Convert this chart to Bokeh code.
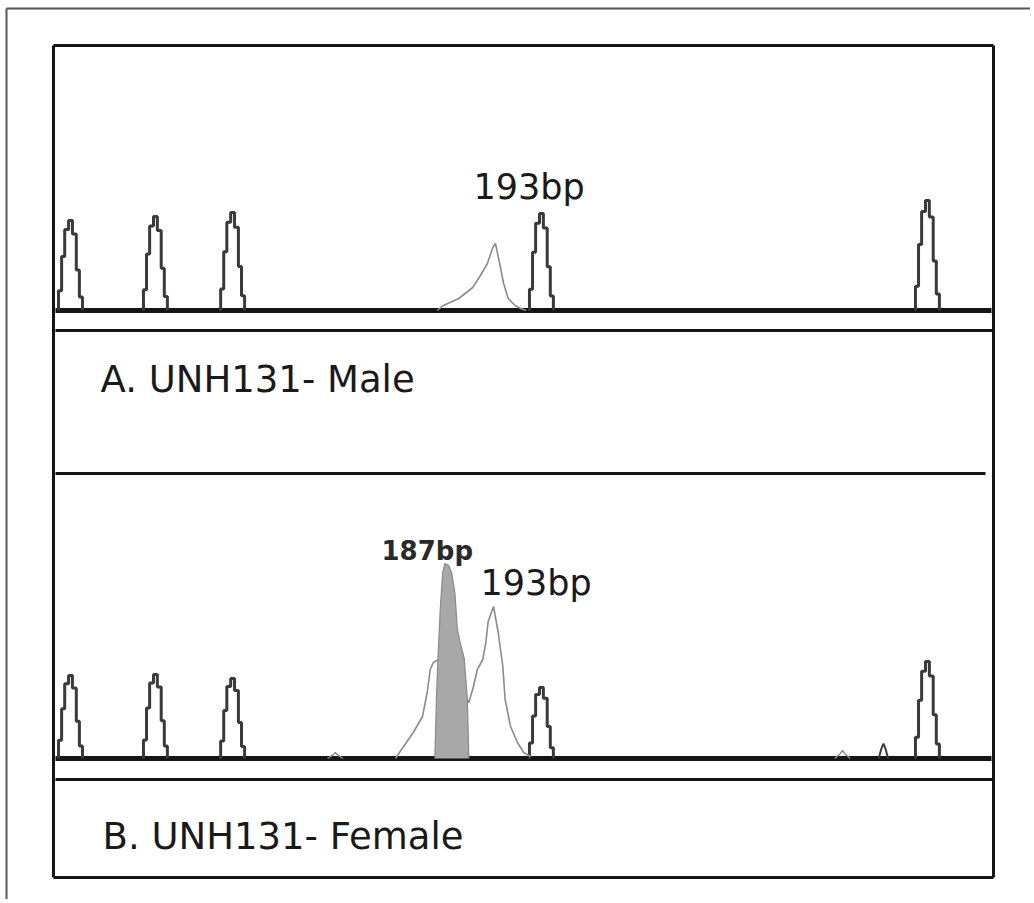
from bokeh.plotting import figure
from bokeh.models import Range1d
from bokeh.embed import file_html
from bokeh.resources import INLINE
from bokeh.core.properties import value

# ---------------- data (size in bp, signal in RFU) ----------------
ladder_bp = [139, 150, 160, 200, 250]
ladder_rfu_A = [900, 940, 980, 970, 1100]
ladder_rfu_B = [830, 840, 800, 710, 970]
# staircase profile of a ladder peak
ladder_edges_bp = [-1.55, -1.15, -0.75, -0.25, 0.25, 0.75, 1.15, 1.55]
ladder_levels = [0.22, 0.6, 0.9, 1.0, 0.85, 0.45, 0.15]

# sample A (male): single 193 bp allele
A_allele_bp = [186.5, 187.3, 189.3, 191.1, 192.1, 193.0, 193.7, 194.05, 194.7, 195.1, 195.7, 196.6, 197.3, 198.0]
A_allele_rfu = [0, 50, 120, 230, 350, 470, 630, 670, 430, 270, 120, 50, 20, 0]

# sample B (female): 187 bp + 193 bp
B_trace_bp = [181.1, 181.7, 183.4, 184.6, 185.2, 185.6, 186.0, 186.9, 188.2, 189.5, 190.6, 191.2, 191.7,
              192.4, 192.8, 193.1, 193.8, 194.4, 195.0, 195.3, 196.0, 196.9, 197.7, 198.6]
B_trace_rfu = [0, 70, 260, 420, 660, 890, 960, 1000, 900, 700, 560, 720, 890,
               990, 1160, 1370, 1520, 1260, 920, 590, 320, 160, 60, 20]
B_fill_bp = [186.2, 186.4, 186.6, 186.9, 187.2, 187.5, 188.0, 188.4, 188.8, 189.1, 189.5, 190.0, 190.4, 190.6]
B_fill_rfu = [0, 600, 1000, 1500, 1850, 1950, 1930, 1850, 1650, 1300, 1150, 1000, 600, 0]
B_small_bp = [173.3, 239.0]
B_small_rfu = [60, 80]
B_dark_bp = [244.3]
B_dark_rfu = [150]

labels_panel = ["A. UNH131- Male", "B. UNH131- Female"]
labels_peak = ["193bp", "187bp", "193bp"]

# ---------------- layout (page pixels) ----------------
W, H = 1030, 899
PX0, PY0 = 0, 0
PX_PER_BP = 7.72
PX_139 = 70.0
RFU_PER_PX = 10.0
BASE_A = 310.0
BASE_B = 758.0


def bp_at(px):
    return 139 + (px - PX_139) / PX_PER_BP


p = figure(width=W, height=H, x_range=Range1d(PX0, PX0 + W), y_range=Range1d(PY0 + H, PY0),
           output_backend="svg", toolbar_location=None, min_border=0)
p.axis.visible = False
p.grid.visible = False
p.outline_line_color = None
p.background_fill_color = "white"

p.extra_x_ranges = {"bp": Range1d(bp_at(PX0), bp_at(PX0 + W))}
p.extra_y_ranges = {
    "a": Range1d((BASE_A - (PY0 + H)) * RFU_PER_PX, (BASE_A - PY0) * RFU_PER_PX),
    "b": Range1d((BASE_B - (PY0 + H)) * RFU_PER_PX, (BASE_B - PY0) * RFU_PER_PX),
}

# ---------------- frame ----------------
frame_col = "#151515"
p.segment(x0=[6, 6], y0=[8, 8], x1=[6, 1030], y1=[899, 8], line_color="#555555", line_width=2)
p.segment(x0=[53, 993, 53, 53], y0=[45, 45, 45, 877], x1=[53, 993, 993, 993], y1=[877, 877, 45, 877],
          line_color=frame_col, line_width=3)
p.segment(x0=[55, 55, 55, 55, 55], y0=[BASE_A, 330, 473, BASE_B, 779],
          x1=[991, 993, 985, 991, 993], y1=[BASE_A, 330, 473, BASE_B, 779],
          line_color=frame_col, line_width=[5, 3, 3, 5, 3])


def ladder_xy(center, height):
    xs, ys = [center + ladder_edges_bp[0]], [0]
    for i, lev in enumerate(ladder_levels):
        xs += [center + ladder_edges_bp[i], center + ladder_edges_bp[i + 1]]
        ys += [height * lev, height * lev]
    xs.append(center + ladder_edges_bp[-1])
    ys.append(0)
    return xs, ys


lad_col = "#3a3a3a"
allele_col = "#8c8c8c"

for rname, heights in (("a", ladder_rfu_A), ("b", ladder_rfu_B)):
    xs_all, ys_all = [], []
    for c, h in zip(ladder_bp, heights):
        xs, ys = ladder_xy(c, h)
        xs_all.append(xs)
        ys_all.append(ys)
    p.multi_line(xs_all, ys_all, x_range_name="bp", y_range_name=rname,
                 line_color=lad_col, line_width=3)

# panel A allele
p.line(A_allele_bp, A_allele_rfu, x_range_name="bp", y_range_name="a",
       line_color=allele_col, line_width=1.6)

# panel B traces
p.line(B_trace_bp, B_trace_rfu, x_range_name="bp", y_range_name="b",
       line_color=allele_col, line_width=1.6)
p.varea(x=B_fill_bp, y1=[0] * len(B_fill_bp), y2=B_fill_rfu, x_range_name="bp", y_range_name="b",
        fill_color="#a8a8a8")
p.line(B_fill_bp, B_fill_rfu, x_range_name="bp", y_range_name="b",
       line_color="#8a8a8a", line_width=1.2)
for bpv, rv in zip(B_small_bp, B_small_rfu):
    p.line([bpv - 1.0, bpv - 0.3, bpv, bpv + 0.3, bpv + 1.0], [0, rv * 0.6, rv, rv * 0.6, 0],
           x_range_name="bp", y_range_name="b", line_color=allele_col, line_width=1.4)
for bpv, rv in zip(B_dark_bp, B_dark_rfu):
    p.line([bpv - 0.6, bpv - 0.3, bpv, bpv + 0.3, bpv + 0.6], [0, rv * 0.6, rv, rv * 0.6, 0],
           x_range_name="bp", y_range_name="b", line_color=lad_col, line_width=2)

# ---------------- texts ----------------
font = value("DejaVu Sans")
p.text(x=[100, 102], y=[379, 836], text=labels_panel, text_font=font, text_font_size="37px",
       text_color="#1a1a1a", text_baseline="alphabetic", text_align="left")
p.text(x=[473], y=[186], text=[labels_peak[0]], text_font=font, text_font_size="35px",
       text_color="#1a1a1a", text_baseline="alphabetic", text_align="left")
p.text(x=[480], y=[582], text=[labels_peak[2]], text_font=font, text_font_size="35px",
       text_color="#1a1a1a", text_baseline="alphabetic", text_align="left")
p.text(x=[381], y=[550], text=[labels_peak[1]], text_font=font, text_font_size="26px",
       text_font_style="bold", text_color="#2a2a2a", text_baseline="alphabetic", text_align="left")

open("out.html", "w").write(file_html(p, INLINE))
